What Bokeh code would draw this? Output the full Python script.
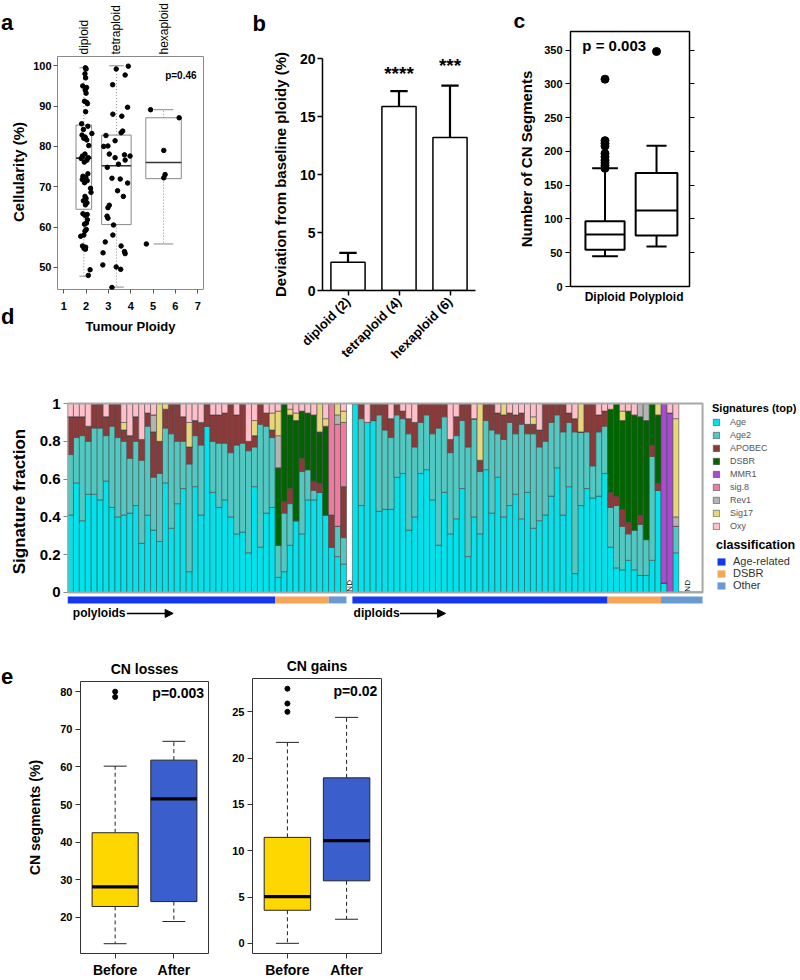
import math
from bokeh.plotting import figure
from bokeh.models import (ColumnDataSource, Range1d, FixedTicker, LinearAxis, Label,
                          Legend, LegendItem, Arrow, NormalHead, Spacer)
from bokeh.layouts import row, column
from bokeh.embed import file_html
from bokeh.resources import INLINE

FONT = "Liberation Sans"

# ================= DATA =================
# ---- panel a: cellularity by tumour ploidy
a_groups = ["diploid", "tetraploid", "hexaploid"]
a_pos = [1.9, 3.36, 5.47]
a_q1 = [64.4, 60.6, 72.0]
a_med = [77.1, 75.2, 76.0]
a_q3 = [85.3, 82.8, 87.1]
a_lo = [47.8, 45.1, 55.8]
a_hi = [99.5, 100.0, 89.1]
a_xticks = [1, 2, 3, 4, 5, 6, 7]
a_yticks = [50, 60, 70, 80, 90, 100]
a_dip_x = [1.97, 2.00, 1.95, 1.98, 1.85, 2.02, 1.96, 2.00, 1.93, 2.03,
           2.06, 1.98, 1.80, 2.08, 1.88, 2.26, 1.82, 1.96, 1.90, 2.03,
           2.12, 1.95, 1.84, 2.10, 1.78, 2.04, 1.92, 2.08, 1.86, 1.99,
           1.83, 2.05, 1.93, 2.20, 2.22, 1.95, 2.00, 1.88, 2.04, 1.97,
           1.86, 2.05, 1.95, 2.06, 2.02, 1.93, 2.01, 1.95, 1.90, 1.76,
           1.84, 1.98, 1.91, 1.97, 2.18, 2.10]
a_dip_y = [99.5, 99.2, 98.0, 97.0, 95.0, 94.6, 94.0, 93.2, 91.2, 90.9,
           90.6, 88.6, 85.6, 85.0, 84.2, 83.2, 82.8, 82.3, 82.0, 81.6,
           80.2, 78.1, 77.6, 77.2, 77.0, 76.6, 76.1, 73.2, 72.6, 72.2,
           71.8, 71.5, 71.0, 69.6, 68.6, 67.6, 67.1, 66.5, 66.0, 65.5,
           63.3, 63.1, 62.9, 61.8, 61.0, 60.7, 59.4, 59.0, 58.0, 57.7,
           55.3, 55.0, 54.7, 54.5, 49.4, 48.0]
a_tet_x = [3.89, 3.35, 3.75, 3.19, 3.86, 3.20, 3.60, 3.64, 3.57, 2.89,
           3.30, 2.79, 2.98, 3.04, 3.72, 3.97, 3.30, 3.75, 3.45, 2.95,
           3.16, 3.53, 3.86, 3.41, 3.67, 3.04, 2.98, 2.94, 2.98, 3.23,
           3.20, 2.86, 3.57, 3.72, 2.76, 3.75, 2.75, 3.35, 3.55, 3.16]
a_tet_y = [99.9, 99.2, 97.7, 95.3, 89.7, 88.0, 87.5, 83.8, 83.4, 82.7,
           81.4, 80.0, 80.1, 78.1, 77.9, 77.6, 77.2, 76.6, 75.6, 74.8,
           72.1, 71.9, 70.9, 69.0, 67.6, 65.4, 64.8, 62.7, 62.2, 60.5,
           58.0, 56.3, 55.3, 53.9, 53.6, 53.4, 50.6, 50.1, 49.5, 45.0]
a_hex_x = [4.89, 6.17, 5.48, 5.54, 5.48, 4.70]
a_hex_y = [89.1, 87.1, 79.0, 73.0, 72.2, 55.8]
a_pvalue = "p=0.46"

# ---- panel b: deviation from baseline ploidy
b_cats = ["diploid (2)", "tetraploid (4)", "hexaploid (6)"]
b_vals = [2.44, 15.86, 13.2]
b_err = [0.81, 1.32, 4.47]
b_stars = ["", "****", "***"]
b_yticks = [0, 5, 10, 15, 20]

# ---- panel c: number of CN segments
c_cats = ["Diploid", "Polyploid"]
c_q1 = [54.3, 75.4]
c_med = [77.0, 112.4]
c_q3 = [96.6, 168.2]
c_lo = [44.8, 59.2]
c_hi = [175.0, 208.6]
c_out_dip = [307, 216, 212, 208, 197, 192, 187, 183, 179, 175]
c_out_poly = [348]
c_yticks = [0, 50, 100, 150, 200, 250, 300, 350]
c_pvalue = "p = 0.003"

# ---- panel d: signature fractions (polyploids 48 bars incl. ND, diploids 59 bars incl. ND)
sig_names = ["Age", "Age2", "APOBEC", "DSBR", "MMR1", "sig.8", "Rev1", "Sig17", "Oxy"]
age_poly = [.41, .58, .38, .52, .52, .49, .59, .45, .40, .41,
            .42, .46, .26, .41, .33, .27, .58, .34, .47, .55,
            .11, .56, .41, .88, .53, .45, .49, .40, .31, .32,
            .21, .56, .24, .42, .45, .08, .11, .25, .38, .31,
            .49, .49, .53, .41, .24, .19, .15, 0]
age_dip = [1.0, .46, .90, .91, .43, .44, .44, .61, .63, .33,
           .40, .63, .65, .49, .25, .53, .31, .39, .55, .19,
           .40, .31, .65, .42, .61, .40, .46, .52, .39, .53,
           .34, .38, .41, .51, .66, .41, .56, .10, .46, .55,
           .50, .51, .63,
           .24, .13, .12, .17, .12, .09, .09, .17, .54,
           .05, 0, .21, 0, 0, 0, 0]
age2_poly = [.32, .24, .45, .28, .35, .38, .24, .43, .42, .39,
             .29, .34, .44, .47, .28, .36, .29, .50, .33, .25,
             .57, .27, .37, 0, .27, .34, .30, .34, .47, .47,
             .54, .21, .65, .46, .37, .17, .31, .22, 0, .33,
             .16, .05, 0, 0, 0, .16, .14, 0]
age2_dip = [0, .46, 0, 0, .51, .42, .38, .33, .29, .51,
            .37, .27, .29, .35, .62, .40, .43, .44, .36, .58,
            .52, .33, .26, .44, .23, .41, .44, .32, .50, .31,
            .50, .39, .39, .39, .28, .44, .34, .75, .39, .30,
            .17, .34, .25,
            .21, .33, .23, .14, .21, .27, .19, .55, 0,
            0, 0, .14, 0, 0, 0, 0]
apobec_poly = [.20, .11, .10, .08, .13, .13, .10, .12, .18, .06,
               .12, .13, .11, .07, .24, .17, .10, .16, .20, .13,
               .09, .08, .12, .12, .14, .15, .16, .26, .16, .21,
               .05, .06, .11, .07, .04, 0, .06, .08, 0, .07,
               0, .05, .05, 0, .17, 0, .27, 0]
apobec_dip = [0, .08, 0, .09, .06, .14, .10, .06, .04, .08,
              .13, .10, .06, .16, .13, .07, .07, .10, .09, .23,
              0, .06, .09, .14, .11, .13, .05, .10, .06, .05,
              .05, .09, .20, .10, .06, .15, .05, .07, 0, .15,
              .33, .09, .08,
              .08, .05, .09, .06, 0, .05, 0, .06, .04,
              0, 0, 0, 0, 0, 0, 0]
dsbr_poly = [0] * 35 + [.41, .52, .39, .53, .25, .30, .35, .27, .47] + [0] * 4
dsbr_dip = [0] * 43 + [.44, .49, .47, .59, .61, .52, .63, .22, .36] + [0] * 7
mmr1_poly = [0] * 48
mmr1_dip = [0] * 52 + [.95, .95, 0, 0, 0, 0, 0]
sig8_poly = [0] * 44 + [.59, .54, .34, 0]
sig8_dip = [0] * 59
rev1_poly = [0] * 14 + [.09] + [0] * 20 + [.17] + [0] * 9 + [.05, 0, 0]
rev1_dip = [0] * 48 + [.07, .09] + [0] * 4 + [.05] + [0] * 4
sig17_poly = [0, 0, 0, 0, 0, 0, 0, 0, 0, .04,
              0, 0, 0, 0, 0, .20, .03, 0, 0, 0,
              .13, 0, 0, 0, 0, 0, 0, 0, 0, 0,
              0, .08, 0, 0, .09, .13, 0, .03, .04, 0,
              0, 0, .15, .04, 0, .06, .06, 0]
sig17_dip = [0, 0, 0, 0, 0, 0, 0, 0, 0, 0,
             0, 0, 0, 0, 0, 0, 0, 0, 0, 0,
             0, .30, 0, 0, 0, .06, 0, 0, 0, 0,
             .04, 0, 0, 0, 0, 0, 0, 0, .15, 0,
             0, 0, 0, 0, 0, .05, 0, 0, 0, 0,
             0, .06, 0, 0, .52, 0, 0, 0, 0]
oxy_poly = [.07, .07, .07, .12, 0, 0, .07, 0, 0, .10,
            .17, .07, .19, .05, .06, 0, 0, 0, 0, .07,
            .10, .09, .10, 0, .06, .06, .05, 0, .06, 0,
            .20, .09, 0, .05, .05, .04, 0, .03, .05, .04,
            .05, .06, 0, .08, 0, 0, .04, 0]
oxy_dip = [0, 0, .10, 0, 0, 0, .08, 0, .04, .08,
           .10, 0, 0, 0, 0, 0, .19, .07, 0, 0,
           .08, 0, 0, 0, .05, 0, .05, .06, .05, .11,
           .07, .14, 0, 0, 0, 0, .05, .08, 0, 0,
           0, .06, .04,
           .03, 0, .04, .04, .06, 0, 0, 0, 0,
           0, .05, .08, 0, 0, 0, 0]
class_names = ["Age-related", "DSBR", "Other"]
poly_class_counts = [35, 9, 3]
dip_class_counts = [43, 9, 7]
d_yticks = [0, 0.2, 0.4, 0.6, 0.8, 1]

# ---- panel e: CN losses / gains before and after
e_cats = ["Before", "After"]
loss_q1 = [22.9, 24.2]
loss_med = [28.1, 51.5]
loss_q3 = [42.5, 61.8]
loss_lo = [13.0, 18.9]
loss_hi = [60.2, 66.8]
loss_out = [78.6, 80.0]
loss_p = "p=0.003"
gain_q1 = [3.57, 6.75]
gain_med = [5.05, 11.1]
gain_q3 = [11.44, 17.87]
gain_lo = [0.0, 2.6]
gain_hi = [21.7, 24.4]
gain_out = [25.0, 25.9, 27.5]
gain_p = "p=0.02"
loss_yticks = [10, 20, 30, 40, 50, 60, 70, 80]
gain_yticks = [0, 5, 10, 15, 20, 25]

# ================= STYLE =================
SIG_COLORS = ["#00E3EC", "#52C8C2", "#8B3A3A", "#006400", "#A64CD0",
              "#F07AA0", "#B4B4B4", "#E8D67A", "#FFC0CB"]
CLASS_COLORS = ["#1438EE", "#F6A658", "#6A9AD2"]
GOLD = "#FFD700"
BLUE = "#3A5FCD"


def base_fig(w, h, xr, yr, l, r, t, b, **kw):
    p = figure(width=w, height=h, x_range=xr, y_range=yr, output_backend="svg",
               toolbar_location=None, min_border_left=l, min_border_right=r,
               min_border_top=t, min_border_bottom=b, frame_align=False, **kw)
    p.xgrid.visible = False
    p.ygrid.visible = False
    p.background_fill_color = "white"
    p.border_fill_color = "white"
    return p


def text_fig(w, h):
    # a plain drawing area whose frame covers the whole canvas (pixel units, y down)
    p = base_fig(w, h, Range1d(0, w), Range1d(h, 0), 0, 0, 0, 0,
                 x_axis_location=None, y_axis_location=None)
    p.outline_line_color = None
    return p


def style_axis(ax, size="11px", bold=True, color="black"):
    ax.major_label_text_font = FONT
    ax.major_label_text_font_size = size
    ax.major_label_text_font_style = "bold" if bold else "normal"
    ax.major_label_text_color = color
    ax.axis_label_text_font = FONT
    ax.axis_label_text_font_style = "bold"
    ax.axis_label_text_color = "black"
    ax.minor_tick_line_color = None
    ax.major_tick_in = 0


def txt(p, text, x, y, size, bold=False, align="left", baseline="middle",
        angle=0.0, color="black"):
    p.add_layout(Label(x=x, y=y, text=text, text_font=FONT,
                       text_font_size=size, text_font_style="bold" if bold else "normal",
                       text_align=align, text_baseline=baseline, angle=angle,
                       text_color=color))


def set_title(p, text, align, offset, standoff, size):
    p.title.text = text
    p.title.align = align
    p.title.offset = offset
    p.title.standoff = standoff
    p.title.text_font = FONT
    p.title.text_font_size = size
    p.title.text_font_style = "bold"
    p.title.text_color = "black"


def boxplot(p, pos, q1, med, q3, lo, hi, boxw, capw, fill, lc, lw, mw, mc, dash,
            wc=None):
    left = [c - w / 2 for c, w in zip(pos, boxw)]
    right = [c + w / 2 for c, w in zip(pos, boxw)]
    cl = [c - w / 2 for c, w in zip(pos, capw)]
    cr = [c + w / 2 for c, w in zip(pos, capw)]
    wc = wc or lc
    p.segment(x0=pos, y0=q3, x1=pos, y1=hi, line_color=wc, line_width=lw, line_dash=dash)
    p.segment(x0=pos, y0=q1, x1=pos, y1=lo, line_color=wc, line_width=lw, line_dash=dash)
    p.segment(x0=cl, y0=hi, x1=cr, y1=hi, line_color=wc, line_width=lw)
    p.segment(x0=cl, y0=lo, x1=cr, y1=lo, line_color=wc, line_width=lw)
    p.quad(left=left, right=right, bottom=q1, top=q3, fill_color=fill,
           line_color=lc, line_width=lw)
    p.segment(x0=left, y0=med, x1=right, y1=med, line_color=mc, line_width=mw)


# ================= ROW 1 (height 380) =================
ta = text_fig(30, 380)
txt(ta, "a", 0.5, 22, "22px", bold=True)
txt(ta, "Cellularity (%)", 17.5, 171.5, "15px", bold=True, align="center",
    angle=math.pi / 2)
txt(ta, "d", 0.5, 316, "22px", bold=True)

# ---- panel a
fa = base_fig(200, 380, Range1d(0.72, 7.26), Range1d(44.5, 102.3), 24, 27, 54, 91)
fa.outline_line_color = "#8a8a8a"
fa.outline_line_width = 1
boxplot(fa, a_pos, a_q1, a_med, a_q3, a_lo, a_hi, [0.7, 1.32, 1.59], [0.4, 0.66, 0.88],
        None, "#8a8a8a", 1, 1.6, "#333333", "1 2")
fa.scatter(a_dip_x, a_dip_y, size=4.5, color="black")
fa.scatter(a_tet_x, a_tet_y, size=4.5, color="black")
fa.scatter(a_hex_x, a_hex_y, size=4.5, color="black")
xa, ya = fa.below[0], fa.left[0]
xa.ticker = FixedTicker(ticks=a_xticks)
ya.ticker = FixedTicker(ticks=a_yticks)
for ax in (xa, ya):
    style_axis(ax, "11px")
    ax.axis_line_color = None
    ax.major_tick_out = 4
    ax.major_tick_line_color = "#555555"
xa.axis_label = "Tumour Ploidy"
xa.axis_label_text_font_size = "13px"
xa.major_label_standoff = 8
xa.axis_label_standoff = 6
ya.major_label_standoff = 2
top_ax = LinearAxis(ticker=FixedTicker(ticks=a_pos),
                    major_label_overrides={x: g for x, g in zip(a_pos, a_groups)},
                    major_label_orientation="vertical", axis_line_color=None,
                    major_tick_line_color=None, major_tick_out=0, major_tick_in=0,
                    minor_tick_line_color=None, major_label_standoff=2,
                    major_label_text_font=FONT, major_label_text_font_size="12px",
                    major_label_text_color="black")
fa.add_layout(top_ax, "above")
txt(fa, a_pvalue, 6.95, 97.7, "10px", bold=True, align="right")

# ---- letter strip for panel b
tb = text_fig(38, 380)
txt(tb, "b", 22, 23, "22px", bold=True)

# ---- panel b
b_x = [0.5, 1.5, 2.5]
fb = base_fig(232, 380, Range1d(0, 3), Range1d(0, 20), 51, 25, 58, 90)
fb.outline_line_color = None
b_top = [v + e for v, e in zip(b_vals, b_err)]
fb.segment(x0=b_x, y0=b_vals, x1=b_x, y1=b_top, line_color="black", line_width=2.2)
fb.segment(x0=[x - 0.17 for x in b_x], y0=b_top, x1=[x + 0.17 for x in b_x], y1=b_top,
           line_color="black", line_width=2.2)
fb.vbar(x=b_x, width=0.67, top=b_vals, bottom=0, fill_color="white",
        line_color="black", line_width=1.5)
fb.xaxis.ticker = FixedTicker(ticks=b_x)
fb.xaxis.major_label_overrides = {x: c for x, c in zip(b_x, b_cats)}
fb.xaxis.major_label_orientation = math.pi / 4
fb.yaxis.ticker = FixedTicker(ticks=b_yticks)
for ax in fb.axis:
    style_axis(ax, "14px")
    ax.axis_line_width = 1.5
    ax.major_tick_line_width = 1.5
    ax.major_tick_out = 5
fb.xaxis.major_label_text_font_size = "13px"
fb.xaxis.major_label_standoff = 4
fb.yaxis.axis_label = "Deviation from baseline ploidy (%)"
fb.yaxis.axis_label_text_font_size = "15px"
fb.yaxis.major_label_standoff = 2
fb.yaxis.axis_label_standoff = 8
for x, t, s in zip(b_x, b_top, b_stars):
    if s:
        txt(fb, s, x, t + (1.5 if t < 17.5 else 1.7), "19px", bold=True, align="center")

# ---- panel c
c_x = [1, 2]
fc = base_fig(300, 380, Range1d(0.33, 2.64), Range1d(0, 377.6), 70, 111, 31, 94)
fc.outline_line_color = "black"
fc.outline_line_width = 1.5
boxplot(fc, c_x, c_q1, c_med, c_q3, c_lo, c_hi, [0.76, 0.81], [0.5, 0.39],
        None, "black", 2, 2, "black", "solid")
fc.scatter([c_x[0]] * len(c_out_dip), c_out_dip, size=8, color="black")
fc.scatter([c_x[1]] * len(c_out_poly), c_out_poly, size=8, color="black")
xc, yc = fc.below[0], fc.left[0]
xc.ticker = FixedTicker(ticks=c_x)
xc.major_label_overrides = {x: c for x, c in zip(c_x, c_cats)}
yc.ticker = FixedTicker(ticks=c_yticks)
rax = LinearAxis(ticker=FixedTicker(ticks=c_yticks[1:]),
                 major_label_overrides={t: "" for t in c_yticks[1:]})
fc.add_layout(rax, "right")
for ax in (xc, yc, rax):
    style_axis(ax, "11px")
    ax.axis_line_color = None
    ax.major_tick_out = 5
    ax.major_tick_line_width = 1.2
xc.major_tick_out = 0
xc.major_label_text_font_size = "12px"
xc.major_label_standoff = 3
yc.axis_label = "Number of CN Segments"
yc.axis_label_text_font_size = "15px"
yc.major_label_standoff = 3
yc.axis_label_standoff = 6
txt(fc, c_pvalue, 0.56, 356.5, "15px", bold=True, align="left")
set_title(fc, "c", "left", -57, 0, "21px")

# ================= ROW 2 : panel d (height 242) =================
n_poly = len(age_poly)
n_all = n_poly + len(age_dip)
LEGEND_ROOM = 16.5           # extra x room (in bar widths) for the legends
d_x = [i + 0.5 for i in range(n_all)]
keys = ["s%d" % i for i in range(len(sig_names))]
d_cols = [age_poly + age_dip, age2_poly + age2_dip, apobec_poly + apobec_dip,
          dsbr_poly + dsbr_dip, mmr1_poly + mmr1_dip, sig8_poly + sig8_dip,
          rev1_poly + rev1_dip, sig17_poly + sig17_dip, oxy_poly + oxy_dip]
d_data = {"x": d_x}
for k, col in zip(keys, d_cols):
    d_data[k] = col
src_d = ColumnDataSource(d_data)

fd = base_fig(800, 242, Range1d(0, n_all + LEGEND_ROOM), Range1d(-0.159, 1.122),
              67, 0, 0, 0, x_axis_location=None)
fd.outline_line_color = None
rs = fd.vbar_stack(keys, x="x", width=1.0, fill_color=SIG_COLORS, line_color="#4a4a4a",
                   line_width=0.6, source=src_d)
fd.quad(left=[0], right=[n_all], bottom=[0], top=[1], fill_color=None,
        line_color="#a8a8a8", line_width=2)
yd = fd.left[0]
yd.ticker = FixedTicker(ticks=d_yticks)
yd.major_label_overrides = {t: ("%g" % t) for t in d_yticks}
style_axis(yd, "15px")
yd.axis_line_color = None
yd.major_tick_out = 4
yd.major_tick_line_color = "#888888"
yd.axis_label = "Signature fraction"
yd.axis_label_text_font_size = "17px"
yd.major_label_standoff = 3
yd.axis_label_standoff = 8
txt(fd, "ND", n_poly - 0.5, 0.035, "8px", align="center", angle=math.pi / 2)
txt(fd, "ND", n_all - 2.5, 0.035, "8px", align="center", angle=math.pi / 2)

# classification strip under the bars (one renderer per class)
class_rs = []
for k, col in enumerate(CLASS_COLORS):
    lefts, rights = [], []
    for offset, counts in [(0, poly_class_counts), (n_poly, dip_class_counts)]:
        lefts.append(offset + sum(counts[:k]))
        rights.append(offset + sum(counts[:k + 1]))
    class_rs.append(fd.quad(left=lefts, right=rights, top=-0.021, bottom=-0.058,
                            fill_color=col, line_color=None))
txt(fd, "polyloids", 0.9, -0.111, "12px", bold=True)
txt(fd, "diploids", n_poly + 0.2, -0.111, "12px", bold=True)
for x0, x1 in [(10.0, 17.8), (n_poly + 8.0, n_poly + 15.7)]:
    fd.add_layout(Arrow(x_start=x0, y_start=-0.111, x_end=x1, y_end=-0.111, line_width=1.5,
                        end=NormalHead(size=8, fill_color="black", line_color="black")))

leg1 = Legend(items=[LegendItem(label=n, renderers=[r]) for n, r in zip(sig_names, rs)],
              location=(645, 91), title="Signatures (top)")
leg2 = Legend(items=[LegendItem(label=n, renderers=[r]) for n, r in zip(class_names, class_rs)],
              location=(649, 31), title="classification")
for lg, tsz, fsz, gw, gh, lh, sp in [(leg1, "11px", "9px", 8, 8, 9, 3),
                                      (leg2, "12.5px", "11px", 10, 9, 10, 0)]:
    lg.title_text_font = FONT
    lg.title_text_font_style = "bold"
    lg.title_text_font_size = tsz
    lg.title_text_color = "black"
    lg.title_standoff = 3
    lg.label_text_font = FONT
    lg.label_text_font_size = fsz
    lg.label_text_color = "#555555" if lg is leg1 else "#333333"
    lg.glyph_width = gw
    lg.glyph_height = gh
    lg.label_height = lh
    lg.label_standoff = 10 if lg is leg1 else 7
    lg.spacing = sp
    lg.padding = 0
    lg.margin = 0
    lg.border_line_color = None
    lg.background_fill_alpha = 0
    fd.add_layout(lg)

# ================= ROW 3 : panel e (height 358) =================
te = text_fig(24, 358)
txt(te, "e", 0.5, 54, "22px", bold=True)
e_x = [1, 2]


def cn_panel(w, l, r, t, b, yr, q1, med, q3, lo, hi, out, ticks, title, pval, px, py,
             ylabel=None):
    p = base_fig(w, 358, Range1d(0.41, 2.59), yr, l, r, t, b)
    p.outline_line_color = "#333333"
    p.outline_line_width = 1
    boxplot(p, e_x, q1, med, q3, lo, hi, [0.785, 0.785], [0.39, 0.39], [GOLD, BLUE],
            "#222222", 1, 3.2, "black", "4 3")
    p.scatter([e_x[0]] * len(out), out, size=5, color="black")
    p.xaxis.ticker = FixedTicker(ticks=e_x)
    p.xaxis.major_label_overrides = {x: c for x, c in zip(e_x, e_cats)}
    p.yaxis.ticker = FixedTicker(ticks=ticks)
    for ax in p.axis:
        style_axis(ax, "11px")
        ax.axis_line_color = None
        ax.major_tick_out = 5
        ax.major_tick_line_color = "#333333"
    p.xaxis.major_label_text_font_size = "14px"
    p.xaxis.major_label_standoff = 3
    p.yaxis.major_label_standoff = 3
    if ylabel:
        p.yaxis.axis_label = ylabel
        p.yaxis.axis_label_text_font_size = "14px"
        p.yaxis.axis_label_standoff = 14
    set_title(p, title, "center", 0, 10, "14px")
    txt(p, pval, px, py, "14px", bold=True, align="right")
    return p


fe1 = cn_panel(198, 56, 14, 59, 24, Range1d(10.4, 82.7), loss_q1, loss_med, loss_q3,
               loss_lo, loss_hi, loss_out, loss_yticks, "CN losses", loss_p, 2.515, 79.6,
               ylabel="CN segments (%)")
fe2 = cn_panel(178, 30, 19, 56, 23, Range1d(-1.1, 28.6), gain_q1, gain_med, gain_q3,
               gain_lo, gain_hi, gain_out, gain_yticks, "CN gains", gain_p, 2.52, 27.3)

layout = column(row(ta, fa, tb, fb, fc), fd,
                row(te, fe1, fe2, Spacer(width=400, height=358)))
open("out.html", "w").write(file_html(layout, INLINE))
